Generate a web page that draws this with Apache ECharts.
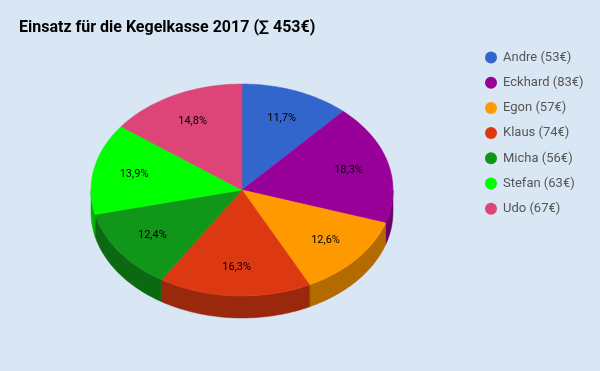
<!DOCTYPE html>
<html>
<head>
<meta charset="utf-8">
<script src="https://cdn.jsdelivr.net/npm/echarts@6/dist/echarts.min.js"></script>
<style>
html,body{margin:0;padding:0;background:#d9e7f5;}
#main{width:600px;height:371px;}
</style>
</head>
<body>
<div id="main"></div>
<script>
const titleText = 'Einsatz für die Kegelkasse 2017 (∑ 453€)';
const names = ['Andre', 'Eckhard', 'Egon', 'Klaus', 'Micha', 'Stefan', 'Udo'];
const values = [53, 83, 57, 74, 56, 63, 67];
const colors = ['#3366cc', '#990099', '#ff9900', '#dc3912', '#109618', '#00ff00', '#dd4477'];
const sideColors = ['#24478f', '#6b006b', '#b36b00', '#9a280d', '#0b6911', '#00b300', '#9b3053'];

const total = values.reduce((a, b) => a + b, 0);
const starts = [];
let acc = 0;
values.forEach(v => { starts.push(acc); acc += v; });

const CX = 242, CY = 190, RX = 151, RY = 106, DEPTH = 22;
const rad = d => d * Math.PI / 180;
function pt(deg, dy) {
  return [CX + RX * Math.sin(rad(deg)), CY - RY * Math.cos(rad(deg)) + (dy || 0)];
}
function arc(a, b, dy) {
  const pts = [];
  const n = Math.max(2, Math.ceil(Math.abs(b - a) / 1.5));
  for (let i = 0; i <= n; i++) pts.push(pt(a + (b - a) * i / n, dy));
  return pts;
}

function makeSeries(i) {
  return {
    type: 'custom',
    name: names[i] + ' (' + values[i] + '€)',
    coordinateSystem: 'none',
    data: [[values[i]]],
    itemStyle: { color: colors[i] },
    renderItem: function (params, api) {
      const v = api.value(0);
      const a = starts[i] / total * 360;
      const b = a + v / total * 360;
      const children = [];
      const s = Math.max(a, 90), e = Math.min(b, 270);
      if (e > s) {
        const top = arc(s, e, 0);
        const bot = arc(e, s, DEPTH);
        children.push({
          type: 'polygon', z2: 1,
          shape: { points: top.concat(bot) },
          style: { fill: sideColors[i], stroke: sideColors[i], lineWidth: 0.5 }
        });
      }
      children.push({
        type: 'polygon', z2: 10,
        shape: { points: [[CX, CY]].concat(arc(a, b, 0)) },
        style: { fill: api.visual('color'), stroke: api.visual('color'), lineWidth: 0.5 }
      });
      const mid = (a + b) / 2;
      const lx = CX + 0.73 * RX * Math.sin(rad(mid));
      const ly = CY - 0.73 * RY * Math.cos(rad(mid));
      children.push({
        type: 'text', z2: 20,
        x: lx, y: ly,
        style: {
          text: (v / total * 100).toFixed(1).replace('.', ',') + '%',
          fill: '#000', font: '11px Roboto', align: 'center', verticalAlign: 'middle'
        }
      });
      return { type: 'group', children: children };
    }
  };
}

const chart = echarts.init(document.getElementById('main'));
chart.setOption({
  backgroundColor: '#d9e7f5',
  animation: false,
  color: colors,
  title: {
    text: titleText, left: 19, top: 20, padding: 0,
    textStyle: { fontFamily: 'Roboto', fontSize: 16, fontWeight: 'bold', color: '#000' }
  },
  legend: {
    orient: 'vertical', left: 485, top: 51, padding: 0,
    icon: 'circle', itemWidth: 12, itemHeight: 12, itemGap: 12.2,
    textStyle: { fontFamily: 'Roboto', fontSize: 13, lineHeight: 12, color: '#555', padding: [0, 0, 0, 1] },
    data: names.map((n, i) => n + ' (' + values[i] + '€)')
  },
  series: names.map((n, i) => makeSeries(i))
});
</script>
</body>
</html>
